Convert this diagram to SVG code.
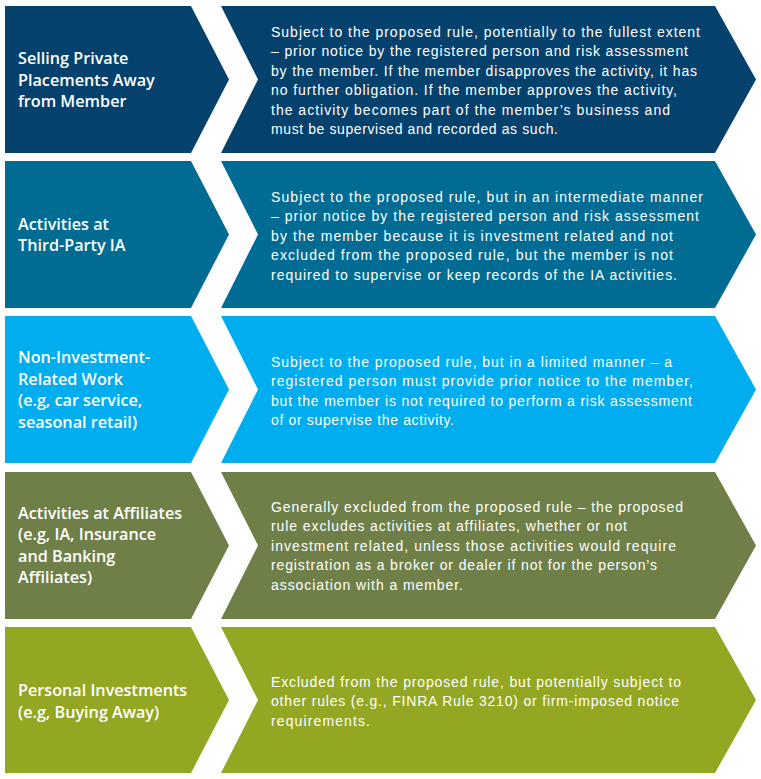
<svg xmlns="http://www.w3.org/2000/svg" width="761" height="779" viewBox="0 0 761 779">
<style>
.lt{font-family:"Open Sans","Noto Sans",sans-serif;font-size:16.2px;font-weight:600;fill:#fff}
.rt{font-family:"Liberation Sans",Arial,sans-serif;font-size:14px;fill:#fff}
.c1{fill:#04416D}.c2{fill:#006C93}.c3{fill:#00ADEE}.c4{fill:#6E7F48}.c5{fill:#93A723}
</style>
<rect width="761" height="779" fill="#fff"/>
<g id="row1">
<g id="label1"><polygon class="c1" points="5,6 191,6 229,79.5 191,153 5,153"/>
<text class="lt" x="18" y="64">Selling Private</text><text class="lt" x="18" y="86">Placements Away</text><text class="lt" x="18" y="107">from Member</text></g>
<g id="desc1"><polygon class="c1" points="221,6 715,6 756,79.5 715,153 221,153 258,79.5"/>
<text class="rt" x="271" y="36.7" textLength="429" lengthAdjust="spacing">Subject to the proposed rule, potentially to the fullest extent</text>
<text class="rt" x="271" y="56.2" textLength="417" lengthAdjust="spacing">– prior notice by the registered person and risk assessment</text>
<text class="rt" x="271" y="75.7" textLength="426" lengthAdjust="spacing">by the member. If the member disapproves the activity, it has</text>
<text class="rt" x="271" y="95.2" textLength="406" lengthAdjust="spacing">no further obligation. If the member approves the activity,</text>
<text class="rt" x="271" y="114.7" textLength="399" lengthAdjust="spacing">the activity becomes part of the member’s business and</text>
<text class="rt" x="271" y="134.2" textLength="287" lengthAdjust="spacing">must be supervised and recorded as such.</text></g>
</g>
<g id="row2">
<g id="label2"><polygon class="c2" points="5,161 191,161 229,234.5 191,308 5,308"/>
<text class="lt" x="18" y="230">Activities at</text><text class="lt" x="18" y="251">Third-Party IA</text></g>
<g id="desc2"><polygon class="c2" points="221,161 715,161 756,234.5 715,308 221,308 258,234.5"/>
<text class="rt" x="271" y="201.7" textLength="432" lengthAdjust="spacing">Subject to the proposed rule, but in an intermediate manner</text>
<text class="rt" x="271" y="221.2" textLength="428" lengthAdjust="spacing">– prior notice by the registered person and risk assessment</text>
<text class="rt" x="271" y="240.7" textLength="402" lengthAdjust="spacing">by the member because it is investment related and not</text>
<text class="rt" x="271" y="260.2" textLength="402" lengthAdjust="spacing">excluded from the proposed rule, but the member is not</text>
<text class="rt" x="271" y="279.7" textLength="406" lengthAdjust="spacing">required to supervise or keep records of the IA activities.</text></g>
</g>
<g id="row3">
<g id="label3"><polygon class="c3" points="5,316 191,316 229,389.5 191,463 5,463"/>
<text class="lt" x="18" y="363">Non-Investment-</text><text class="lt" x="18" y="384.5">Related Work</text><text class="lt" x="18" y="406">(e.g, car service,</text><text class="lt" x="18" y="427.5">seasonal retail)</text></g>
<g id="desc3"><polygon class="c3" points="221,316 715,316 756,389.5 715,463 221,463 258,389.5"/>
<text class="rt" x="271" y="366.7" textLength="401" lengthAdjust="spacing">Subject to the proposed rule, but in a limited manner – a</text>
<text class="rt" x="271" y="386.2" textLength="422" lengthAdjust="spacing">registered person must provide prior notice to the member,</text>
<text class="rt" x="271" y="405.7" textLength="421" lengthAdjust="spacing">but the member is not required to perform a risk assessment</text>
<text class="rt" x="271" y="425.2" textLength="183" lengthAdjust="spacing">of or supervise the activity.</text></g>
</g>
<g id="row4">
<g id="label4"><polygon class="c4" points="5,472 191,472 229,545.5 191,619 5,619"/>
<text class="lt" x="18" y="518.7">Activities at Affiliates</text><text class="lt" x="18" y="540.2">(e.g, IA, Insurance</text><text class="lt" x="18" y="561.7">and Banking</text><text class="lt" x="18" y="583.2">Affiliates)</text></g>
<g id="desc4"><polygon class="c4" points="221,472 715,472 756,545.5 715,619 221,619 258,545.5"/>
<text class="rt" x="271" y="511.7" textLength="412" lengthAdjust="spacing">Generally excluded from the proposed rule – the proposed</text>
<text class="rt" x="271" y="531.2" textLength="356" lengthAdjust="spacing">rule excludes activities at affiliates, whether or not</text>
<text class="rt" x="271" y="550.7" textLength="405" lengthAdjust="spacing">investment related, unless those activities would require</text>
<text class="rt" x="271" y="570.2" textLength="386" lengthAdjust="spacing">registration as a broker or dealer if not for the person’s</text>
<text class="rt" x="271" y="589.7" textLength="192" lengthAdjust="spacing">association with a member.</text></g>
</g>
<g id="row5">
<g id="label5"><polygon class="c5" points="5,627 191,627 229,700 191,773 5,773"/>
<text class="lt" x="18" y="696">Personal Investments</text><text class="lt" x="18" y="717.5">(e.g, Buying Away)</text></g>
<g id="desc5"><polygon class="c5" points="221,627 715,627 756,700 715,773 221,773 258,700"/>
<text class="rt" x="271" y="686.7" textLength="410" lengthAdjust="spacing">Excluded from the proposed rule, but potentially subject to</text>
<text class="rt" x="271" y="706.2" textLength="408" lengthAdjust="spacing">other rules (e.g., FINRA Rule 3210) or firm-imposed notice</text>
<text class="rt" x="271" y="725.7" textLength="99" lengthAdjust="spacing">requirements.</text></g>
</g>
<g id="connectors"/>
</svg>
